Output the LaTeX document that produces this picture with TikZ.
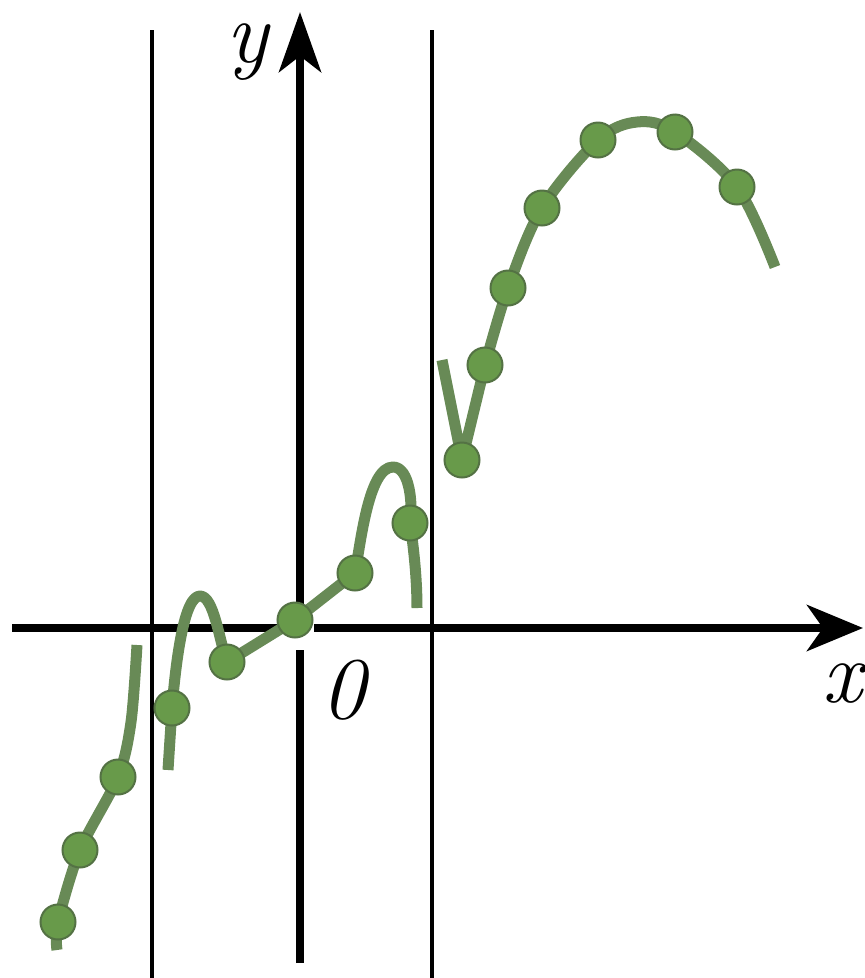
\documentclass[tikz,border=0pt]{standalone}
\usetikzlibrary{arrows.meta}
\definecolor{curvecol}{RGB}{104,138,86}
\definecolor{dotfill}{RGB}{104,154,74}
\definecolor{dotdraw}{RGB}{84,114,68}
\begin{document}
\begin{tikzpicture}[x=1pt,y=-1pt,
  axisline/.style={line width=8pt,black},
  guide/.style={line width=4.5pt,black},
  graphline/.style={line width=11pt,curvecol,line join=round},
  gdot/.style={circle,fill=dotfill,draw=dotdraw,line width=2pt,minimum size=35pt,inner sep=0pt},
  lbl/.style={font=\fontsize{88}{88}\selectfont\itshape,inner sep=0pt}]
\useasboundingbox (0,0) rectangle (865,978);
% guide lines
\draw[guide] (152,30) -- (152,978);
\draw[guide] (432,30) -- (432,978);
% axes
\draw[axisline] (12,628) -- (280,628);
\draw[axisline,-{Stealth[length=56pt,width=46pt,inset=16pt]}] (314,628) -- (863,628);
\draw[axisline] (300,963) -- (300,650);
\draw[axisline,-{Stealth[length=60pt,width=42pt,inset=16pt]}] (300,606) -- (300,12);
% labels
\node[lbl,anchor=base] (ylab) at (247,62) {y};
\node[lbl] (xlab) at (842,684) {x};
\node[lbl] (olab) at (343,690) {0};
% graph pieces
\draw[graphline] plot[smooth,tension=0.5] coordinates {(57,950) (58,922) (80,850) (118,777) (131,722) (137,645)};
\draw[graphline] (168,770) -- (172,708) .. controls (176,660) and (184,596) .. (200,596)
  .. controls (214,596) and (219,640) .. (227,662) -- (295,620) -- (355,573)
  .. controls (361,540) and (369,467) .. (393,467)
  .. controls (410,467) and (413,505) .. (410,523)
  .. controls (414,550) and (417,580) .. (417,608);
\draw[graphline] (442,360) -- (462,460) -- (485,365);
\draw[graphline] plot[smooth,tension=0.55] coordinates {(485,365) (508,288) (542,208) (598,140) (637,122) (675,132) (737,187) (775,267)};
% dots
\foreach \p [count=\i] in {(58,922),(80,850),(118,777),(172,708),(227,662),(295,620),(355,573),(410,523),(462,460),(485,365),(508,288),(542,208),(598,140),(675,132),(737,187)}
  \node[gdot] (d\i) at \p {};
\end{tikzpicture}
\end{document}
